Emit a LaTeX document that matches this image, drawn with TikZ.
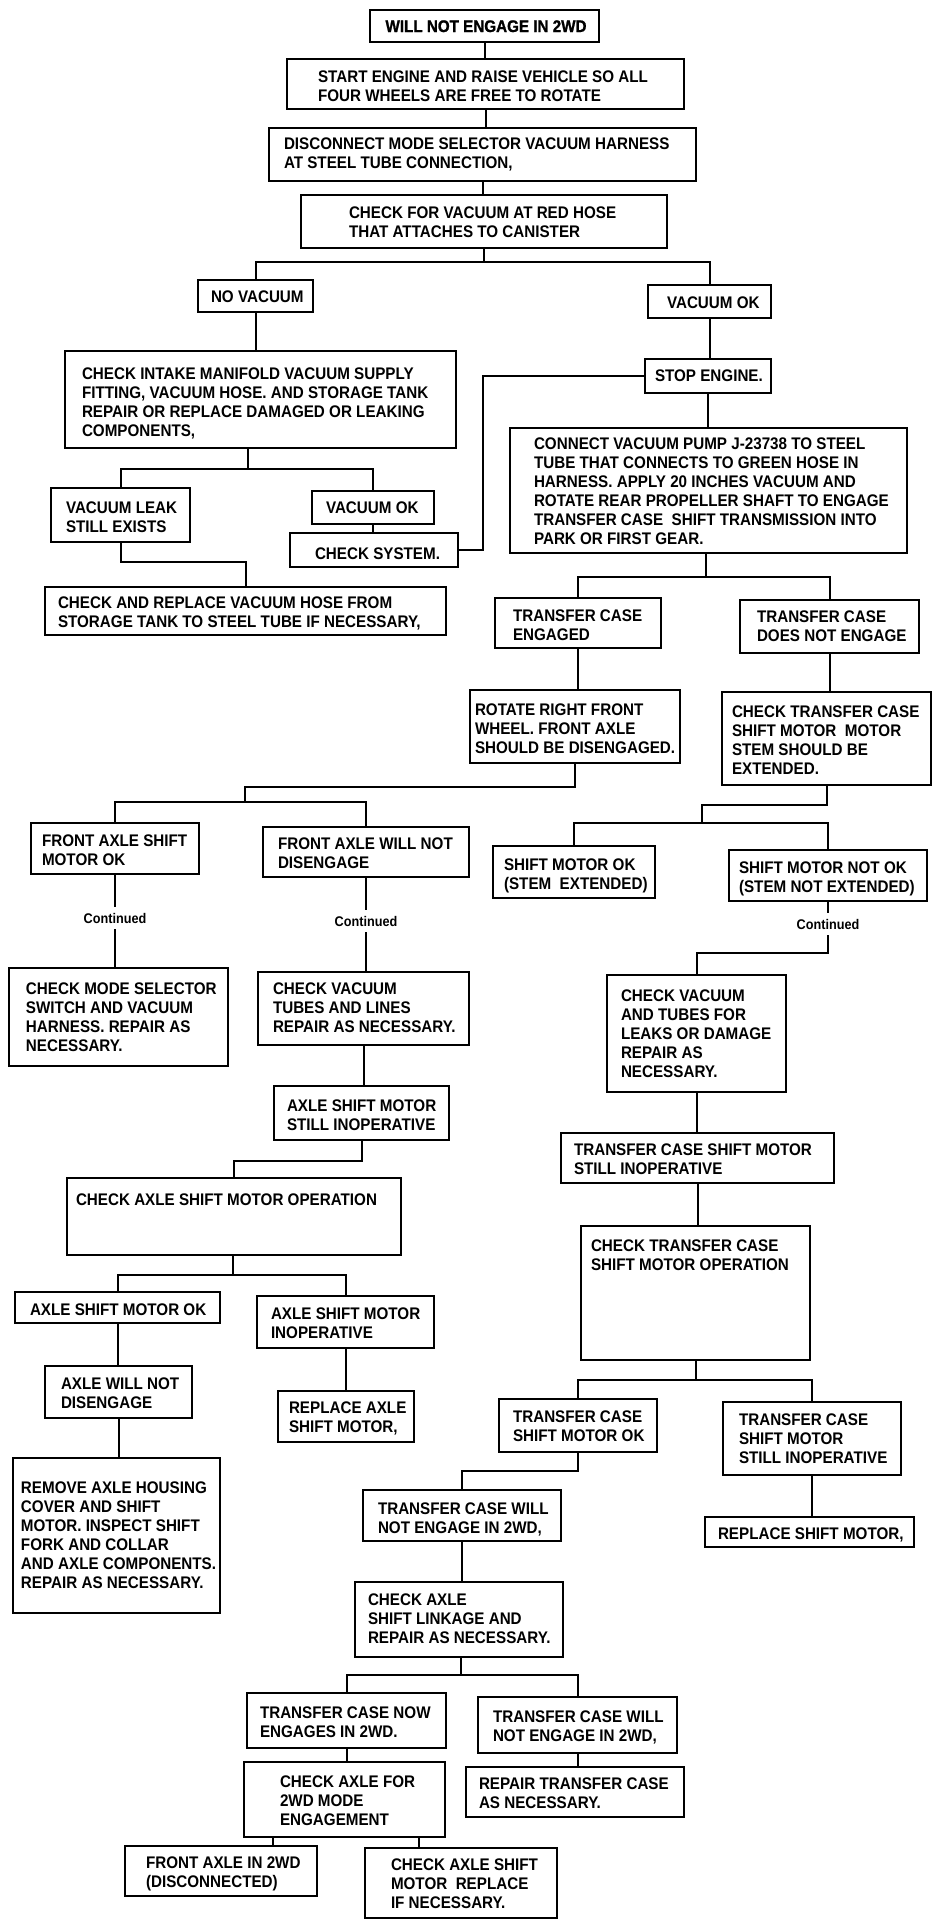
\documentclass[tikz,border=0pt]{standalone}
\usepackage{fontspec}
\newfontfamily\flow{Liberation Sans}[FakeStretch=0.905]
\newfontfamily\flowheavy{Liberation Sans}[FakeStretch=0.905, FakeBold=1.2]
\usetikzlibrary{fit,calc}
\newcommand\mystrut{\rule{0pt}{9.3pt}}
\newcommand{\bx}[5]{\node[box, fit={(#2,#3) (#4,#5)}] (#1) {};}
\newcommand{\tx}[4]{\node[txt, anchor=north west] (#1) at (#2,#3-12.4) {\mystrut #4};}
\begin{document}
\begin{tikzpicture}[x=0.75pt,y=-0.75pt,
  box/.style={draw, line width=1.6pt, inner sep=0pt, rectangle},
  txt/.style={font=\flow\bfseries\fontsize{12.6}{14.25}\selectfont, inner sep=0pt, align=left},
  cont/.style={font=\flow\bfseries\fontsize{10.5}{12}\selectfont, inner sep=0pt, minimum height=15pt},
  every path/.style={line width=1.5pt}]
\fill[white] (0,0) rectangle (944,1920);
\useasboundingbox (0,0) rectangle (944,1920);

% boxes
\bx{b1}{370}{10}{599}{42}
\node[txt, font=\flowheavy\bfseries\fontsize{12.6}{14.25}\selectfont, anchor=base] (tb1) at (486,32) {WILL NOT ENGAGE IN 2WD};
\bx{b2}{287}{59}{684}{109}
\tx{tb2}{317}{81.5}{START ENGINE AND RAISE VEHICLE SO ALL\\FOUR WHEELS ARE FREE TO ROTATE}
\bx{b3}{269}{128}{696}{181}
\tx{tb3}{283}{148.5}{DISCONNECT MODE SELECTOR VACUUM HARNESS\\AT STEEL TUBE CONNECTION,}
\bx{b4}{301}{195}{667}{248}
\tx{tb4}{348}{217}{CHECK FOR VACUUM AT RED HOSE\\THAT ATTACHES TO CANISTER}
\bx{novac}{198}{280}{313}{312}
\tx{tnovac}{210}{301}{NO VACUUM}
\bx{vacok}{648}{285}{771}{318}
\tx{tvacok}{666}{307}{VACUUM OK}
\bx{b5}{65}{351}{456}{448}
\tx{tb5}{81}{378.5}{CHECK INTAKE MANIFOLD VACUUM SUPPLY\\FITTING, VACUUM HOSE. AND STORAGE TANK\\REPAIR OR REPLACE DAMAGED OR LEAKING\\COMPONENTS,}
\bx{stop}{645}{359}{771}{393}
\tx{tstop}{654}{380}{STOP ENGINE.}
\bx{b6}{510}{428}{907}{553}
\tx{tb6}{533}{448.5}{CONNECT VACUUM PUMP J-23738 TO STEEL\\TUBE THAT CONNECTS TO GREEN HOSE IN\\HARNESS. APPLY 20 INCHES VACUUM AND\\ROTATE REAR PROPELLER SHAFT TO ENGAGE\\TRANSFER CASE\ \ SHIFT TRANSMISSION INTO\\PARK OR FIRST GEAR.}
\bx{vleak}{51}{488}{190}{542}
\tx{tvleak}{65}{512.5}{VACUUM LEAK\\STILL EXISTS}
\bx{vok2}{312}{491}{434}{524}
\tx{tvok2}{325}{512.5}{VACUUM OK}
\bx{chksys}{290}{533}{458}{567}
\tx{tchksys}{314}{558.5}{CHECK SYSTEM.}
\bx{b7}{45}{587}{446}{635}
\tx{tb7}{57}{607.5}{CHECK AND REPLACE VACUUM HOSE FROM\\STORAGE TANK TO STEEL TUBE IF NECESSARY,}
\bx{tce}{495}{598}{661}{648}
\tx{ttce}{512}{620.5}{TRANSFER CASE\\ENGAGED}
\bx{tcdne}{740}{600}{919}{653}
\tx{ttcdne}{756}{621.5}{TRANSFER CASE\\DOES NOT ENGAGE}
\bx{rotate}{470}{690}{680}{763}
\tx{trotate}{474}{714.5}{ROTATE RIGHT FRONT\\WHEEL. FRONT AXLE\\SHOULD BE DISENGAGED.}
\bx{ctcsm}{722}{692}{931}{785}
\tx{tctcsm}{731}{716.5}{CHECK TRANSFER CASE\\SHIFT MOTOR\ \ MOTOR\\STEM SHOULD BE\\EXTENDED.}
\bx{fasmok}{31}{823}{199}{874}
\tx{tfasmok}{41}{845.5}{FRONT AXLE SHIFT\\MOTOR OK}
\bx{fawnd}{263}{827}{469}{877}
\tx{tfawnd}{277}{848.5}{FRONT AXLE WILL NOT\\DISENGAGE}
\bx{smok}{493}{846}{655}{898}
\tx{tsmok}{503}{869.5}{SHIFT MOTOR OK\\(STEM\ \ EXTENDED)}
\bx{smnok}{729}{850}{927}{901}
\tx{tsmnok}{738}{872.5}{SHIFT MOTOR NOT OK\\(STEM NOT EXTENDED)}
\node[cont] (c1) at (115,918) {Continued};
\node[cont] (c2) at (366,921) {Continued};
\node[cont] (c3) at (828,924) {Continued};
\bx{cms}{9}{968}{228}{1066}
\tx{tcms}{25}{993.5}{CHECK MODE SELECTOR\\SWITCH AND VACUUM\\HARNESS. REPAIR AS\\NECESSARY.}
\bx{cvt}{258}{972}{469}{1045}
\tx{tcvt}{272}{993.5}{CHECK VACUUM\\TUBES AND LINES\\REPAIR AS NECESSARY.}
\bx{asmsi}{274}{1086}{449}{1140}
\tx{tasmsi}{286}{1110.5}{AXLE SHIFT MOTOR\\STILL INOPERATIVE}
\bx{casmo}{67}{1178}{401}{1255}
\tx{tcasmo}{75}{1204.5}{CHECK AXLE SHIFT MOTOR OPERATION}
\bx{cvat}{607}{975}{786}{1092}
\tx{tcvat}{620}{1000.5}{CHECK VACUUM\\AND TUBES FOR\\LEAKS OR DAMAGE\\REPAIR AS\\NECESSARY.}
\bx{tcsmsi}{561}{1133}{834}{1183}
\tx{ttcsmsi}{573}{1154.5}{TRANSFER CASE SHIFT MOTOR\\STILL INOPERATIVE}
\bx{ctcsmo}{581}{1226}{810}{1360}
\tx{tctcsmo}{590}{1250.5}{CHECK TRANSFER CASE\\SHIFT MOTOR OPERATION}
\bx{asmok}{15}{1292}{220}{1323}
\tx{tasmok}{29}{1314.5}{AXLE SHIFT MOTOR OK}
\bx{asmi}{257}{1296}{434}{1348}
\tx{tasmi}{270}{1318.5}{AXLE SHIFT MOTOR\\INOPERATIVE}
\bx{awnd}{45}{1366}{192}{1418}
\tx{tawnd}{60}{1388.5}{AXLE WILL NOT\\DISENGAGE}
\bx{rasm}{278}{1391}{414}{1442}
\tx{trasm}{288}{1412.5}{REPLACE AXLE\\SHIFT MOTOR,}
\bx{rah}{13}{1458}{220}{1613}
\tx{trah}{20}{1492.5}{REMOVE AXLE HOUSING\\COVER AND SHIFT\\MOTOR. INSPECT SHIFT\\FORK AND COLLAR\\AND AXLE COMPONENTS.\\REPAIR AS NECESSARY.}
\bx{tcsmok}{499}{1399}{657}{1452}
\tx{ttcsmok}{512}{1421.5}{TRANSFER CASE\\SHIFT MOTOR OK}
\bx{tcsmsi2}{723}{1402}{901}{1475}
\tx{ttcsmsi2}{738}{1424.5}{TRANSFER CASE\\SHIFT MOTOR\\STILL INOPERATIVE}
\bx{rsm}{705}{1517}{914}{1547}
\tx{trsm}{717}{1538.5}{REPLACE SHIFT MOTOR,}
\bx{tcwne}{363}{1490}{561}{1541}
\tx{ttcwne}{377}{1513.5}{TRANSFER CASE WILL\\NOT ENGAGE IN 2WD,}
\bx{cas}{355}{1582}{563}{1657}
\tx{tcas}{367}{1604.5}{CHECK AXLE\\SHIFT LINKAGE AND\\REPAIR AS NECESSARY.}
\bx{tcne}{247}{1693}{446}{1748}
\tx{ttcne}{259}{1717.5}{TRANSFER CASE NOW\\ENGAGES IN 2WD.}
\bx{tcwne2}{478}{1697}{677}{1753}
\tx{ttcwne2}{492}{1721.5}{TRANSFER CASE WILL\\NOT ENGAGE IN 2WD,}
\bx{caf}{244}{1762}{445}{1837}
\tx{tcaf}{279}{1786.5}{CHECK AXLE FOR\\2WD MODE\\ENGAGEMENT}
\bx{rtc}{466}{1767}{684}{1817}
\tx{trtc}{478}{1788.5}{REPAIR TRANSFER CASE\\AS NECESSARY.}
\bx{fa2wd}{125}{1846}{317}{1896}
\tx{tfa2wd}{145}{1867.5}{FRONT AXLE IN 2WD\\(DISCONNECTED)}
\bx{casm}{365}{1848}{557}{1918}
\tx{tcasm}{390}{1869.5}{CHECK AXLE SHIFT\\MOTOR\ \ REPLACE\\IF NECESSARY.}

% junction coordinates
\coordinate (j1) at (484,262);
\coordinate (j2) at (248,469);
\coordinate (j3) at (706,577);
\coordinate (j4) at (245,802);
\coordinate (j5) at (702,823);
\coordinate (j6) at (233,1275);
\coordinate (j7) at (696,1380);
\coordinate (j8) at (461,1675);
\coordinate (k1) at (273,1837);
\coordinate (k2) at (419,1837);

% connectors
\draw (b1.south) -- (b1.south |- b2.north);
\draw (b2.south) -- (b2.south |- b3.north);
\draw (b3.south) -- (b3.south |- b4.north);
\draw (j1 |- b4.south) -- (j1);
\draw (novac.north) |- (j1) -| (vacok.north);
\draw (novac.south) -- (novac.south |- b5.north);
\draw (vacok.south) -- (vacok.south |- stop.north);
\draw (chksys.east) -- ++(24,0) |- (stop.west);
\draw (stop.south) -- (stop.south |- b6.north);
\draw (j2 |- b5.south) -- (j2);
\draw (vleak.north) |- (j2) -| (vok2.north);
\draw (vok2.south) -- (vok2.south |- chksys.north);
\draw (vleak.south) -- ++(0,19) -| (b7.north);
\draw (j3 |- b6.south) -- (j3);
\draw (tce.north) |- (j3) -| (tcdne.north);
\draw (tce.south) -- (tce.south |- rotate.north);
\draw (tcdne.south) -- (tcdne.south |- ctcsm.north);
\draw (rotate.south) -- ++(0,23) -| (j4);
\draw (fasmok.north) |- (j4) -| (fawnd.north);
\draw (ctcsm.south) -- ++(0,19) -| (j5);
\draw (smok.north) |- (j5) -| (smnok.north);
\draw (fasmok.south) -- (fasmok.south |- c1.north);
\draw (c1.south) -- (c1.south |- cms.north);
\draw (fawnd.south) -- (fawnd.south |- c2.north);
\draw (c2.south) -- (c2.south |- cvt.north);
\draw (smnok.south) -- (smnok.south |- c3.north);
\draw (c3.south) -- ++(0,18) -| (cvat.north);
\draw (cvt.south) -- (cvt.south |- asmsi.north);
\draw (asmsi.south) -- ++(0,20) -| (casmo.north);
\draw (j6 |- casmo.south) -- (j6);
\draw (asmok.north) |- (j6) -| (asmi.north);
\draw (asmok.south) -- (asmok.south |- awnd.north);
\draw (awnd.south) -- (awnd.south |- rah.north);
\draw (asmi.south) -- (asmi.south |- rasm.north);
\draw (cvat.south) -- (cvat.south |- tcsmsi.north);
\draw (tcsmsi.south) -- (tcsmsi.south |- ctcsmo.north);
\draw (j7 |- ctcsmo.south) -- (j7);
\draw (tcsmok.north) |- (j7) -| (tcsmsi2.north);
\draw (tcsmsi2.south) -- (tcsmsi2.south |- rsm.north);
\draw (tcsmok.south) -- ++(0,18) -| (tcwne.north);
\draw (tcwne.south) -- (tcwne.south |- cas.north);
\draw (j8 |- cas.south) -- (j8);
\draw (tcne.north) |- (j8) -| (tcwne2.north);
\draw (tcne.south) -- (tcne.south |- caf.north);
\draw (tcwne2.south) -- (tcwne2.south |- rtc.north);
\draw (k1 |- caf.south) -- (k1 |- fa2wd.north);
\draw (k2 |- caf.south) -- (k2 |- casm.north);
\end{tikzpicture}
\end{document}
